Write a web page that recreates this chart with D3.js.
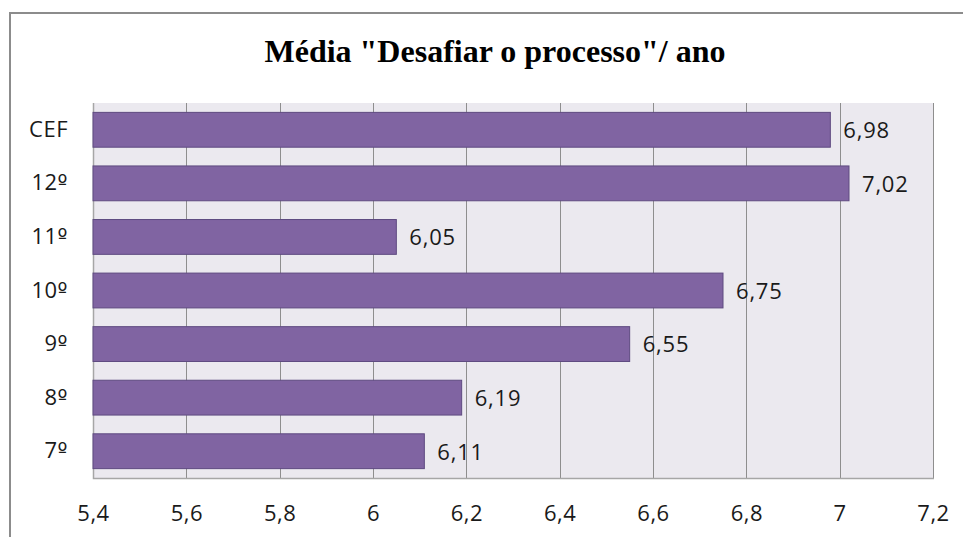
<!DOCTYPE html>
<html>
<head>
<meta charset="utf-8">
<script src="https://cdn.jsdelivr.net/npm/d3@7"></script>
<style>
  html, body { margin: 0; padding: 0; background: #fff; }
  svg { display: block; }
</style>
</head>
<body>
<svg id="chart" width="963" height="537"></svg>
<script>
// Average score for "Desafiar o processo" by school year
const categories = ["CEF", "12º", "11º", "10º", "9º", "8º", "7º"];
const values = [6.98, 7.02, 6.05, 6.75, 6.55, 6.19, 6.11];
const xTicks = [5.4, 5.6, 5.8, 6.0, 6.2, 6.4, 6.6, 6.8, 7.0, 7.2];
const titleText = "Média \"Desafiar o processo\"/ ano";

const svg = d3.select("#chart");
const W = 963, H = 537;
const plot = { left: 93, right: 933, top: 103, bottom: 478 };
const labelFont = "'Open Sans', sans-serif";

const fmt = v => String(+v.toFixed(2)).replace(".", ",");

// outer chart frame
svg.append("rect")
  .attr("x", 10).attr("y", 13)
  .attr("width", W).attr("height", H)
  .attr("fill", "#fff")
  .attr("stroke", "#8c8c8c").attr("stroke-width", 2);

svg.append("text")
  .attr("x", 495).attr("y", 62)
  .attr("text-anchor", "middle")
  .attr("font-family", "'Liberation Serif', 'Times New Roman', serif")
  .attr("font-weight", "bold")
  .attr("font-size", 32)
  .attr("fill", "#000")
  .text(titleText);

const x = d3.scaleLinear().domain([5.4, 7.2]).range([plot.left, plot.right]);
const y = d3.scaleBand().domain(categories)
  .range([plot.top, plot.bottom])
  .paddingInner(0.35).paddingOuter(0.175);

// plot area background
svg.append("rect")
  .attr("x", plot.left).attr("y", plot.top)
  .attr("width", plot.right - plot.left).attr("height", plot.bottom - plot.top)
  .attr("fill", "#ebe9ef");

// vertical gridlines
svg.append("g")
  .selectAll("line")
  .data(xTicks.slice(1))
  .join("line")
  .attr("x1", d => Math.round(x(d)) + 0.5).attr("x2", d => Math.round(x(d)) + 0.5)
  .attr("y1", plot.top).attr("y2", plot.bottom)
  .attr("stroke", "#8e8e8e").attr("stroke-width", 1);

// plot border left and bottom
svg.append("path")
  .attr("d", `M${plot.left + 0.5},${plot.top}V${plot.bottom + 0.5}H${plot.right + 1}`)
  .attr("fill", "none").attr("stroke", "#a6a6a6").attr("stroke-width", 1.5);

// bars
svg.append("g")
  .selectAll("rect")
  .data(values)
  .join("rect")
  .attr("x", x(5.4))
  .attr("y", (d, i) => y(categories[i]))
  .attr("width", d => x(d) - x(5.4))
  .attr("height", y.bandwidth())
  .attr("fill", "#8064a2")
  .attr("stroke", "#5e4a80").attr("stroke-width", 1);

// value labels
svg.append("g")
  .selectAll("text")
  .data(values)
  .join("text")
  .attr("x", d => x(d) + 13)
  .attr("y", (d, i) => y(categories[i]) + y.bandwidth() / 2)
  .attr("dy", "0.38em")
  .attr("font-family", labelFont)
  .attr("font-size", 22)
  .attr("letter-spacing", 0.8)
  .attr("fill", "#1a1a1a")
  .text(d => fmt(d));

// category axis; the ordinal sign is set in a font whose º carries an underline
const yAxis = d3.axisLeft(y).tickSize(0).tickPadding(25);
const gy = svg.append("g").attr("transform", `translate(${plot.left},0)`).call(yAxis);
gy.select(".domain").remove();
gy.selectAll("text")
  .attr("font-family", labelFont)
  .attr("font-size", 22)
  .attr("letter-spacing", 0.5)
  .attr("fill", "#1a1a1a")
  .each(function(d) {
    const t = d3.select(this);
    const m = d.match(/^(\d+)(º)$/);
    if (m) {
      t.text(null);
      t.append("tspan").text(m[1]);
      t.append("tspan").attr("font-family", "'DejaVu Sans', sans-serif").attr("font-size", 21).text(m[2]);
    }
  });

// value axis
const xAxis = d3.axisBottom(x).tickValues(xTicks).tickSize(0).tickPadding(27).tickFormat(fmt);
const gx = svg.append("g").attr("transform", `translate(0,${plot.bottom})`).call(xAxis);
gx.select(".domain").remove();
gx.selectAll("text")
  .attr("font-family", labelFont)
  .attr("font-size", 22)
  .attr("letter-spacing", 0.5)
  .attr("fill", "#1a1a1a");
</script>
</body>
</html>
